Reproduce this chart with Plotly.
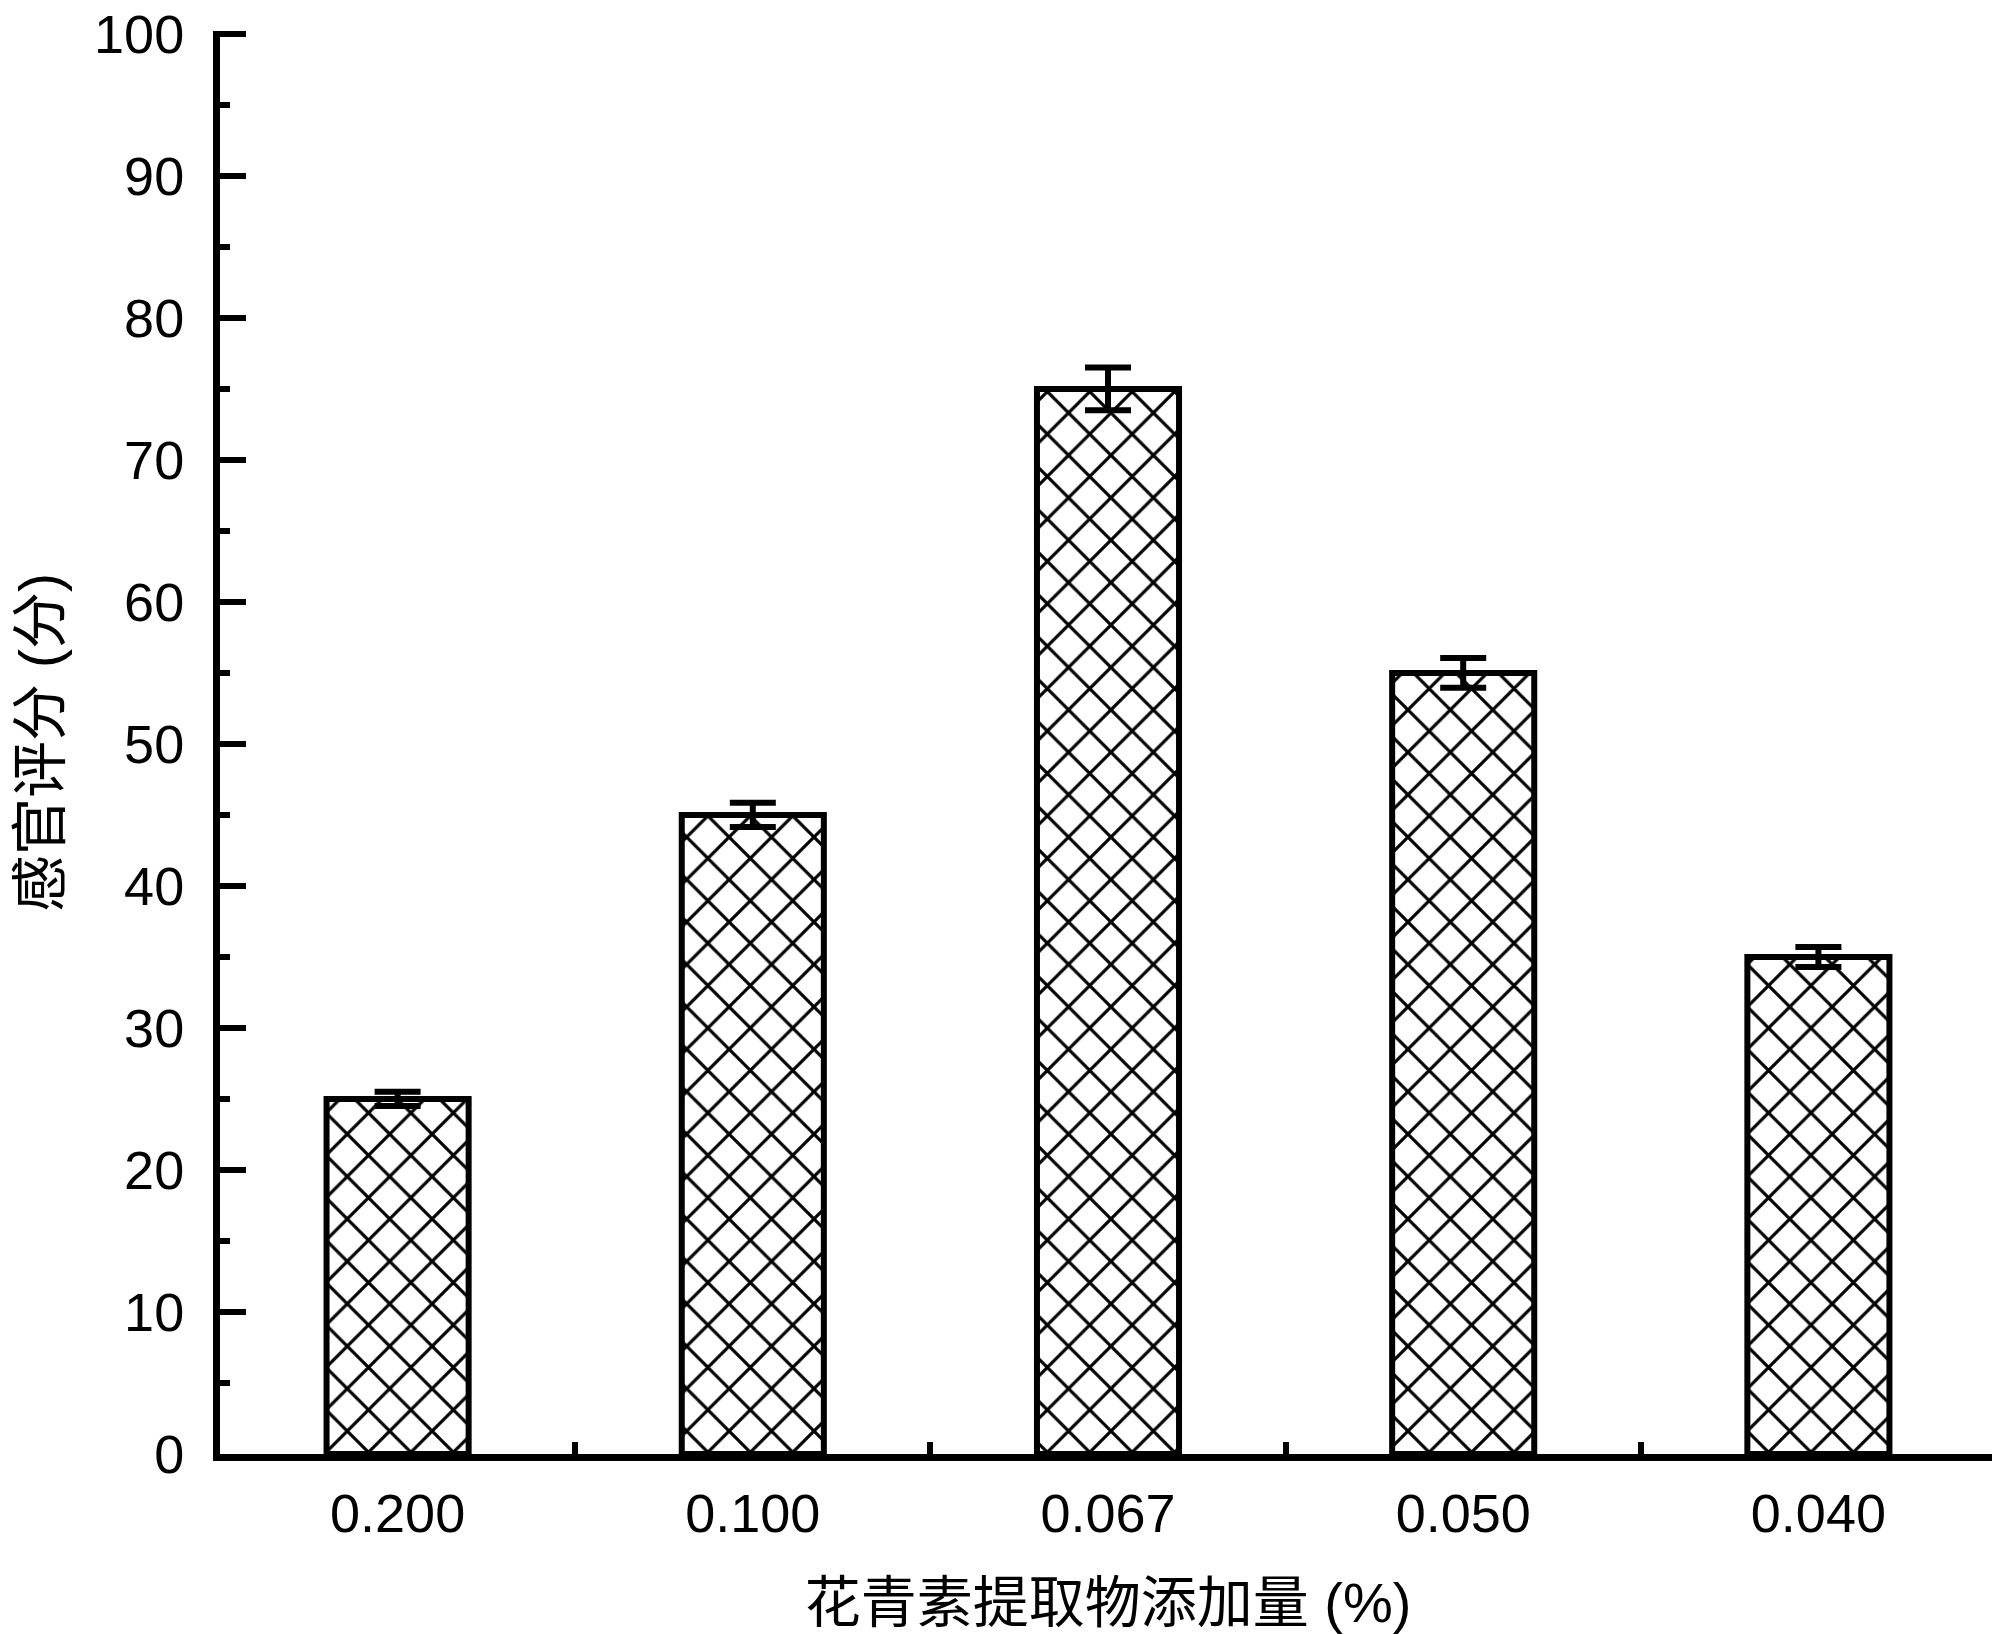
import plotly.graph_objects as go

categories = ["0.200", "0.100", "0.067", "0.050", "0.040"]
scores = [25, 45, 75, 55, 35]
errors = [0.5, 0.85, 1.5, 1.05, 0.7]
y_ticks = [0, 10, 20, 30, 40, 50, 60, 70, 80, 90, 100]

FONT = "Liberation Sans, Arial, Noto Sans CJK SC"

fig = go.Figure()
fig.add_trace(go.Bar(
    x=categories,
    y=scores,
    width=0.4,
    marker=dict(
        color="white",
        line=dict(color="black", width=6),
        pattern=dict(shape="x", size=30, solidity=0.2, fgcolor="black", fgopacity=1,
                     bgcolor="white", fillmode="overlay"),
    ),
    error_y=dict(type="data", array=errors, visible=True, color="black", thickness=6, width=23),
))

fig.update_layout(
    width=2000, height=1634,
    paper_bgcolor="white", plot_bgcolor="white",
    margin=dict(l=212, r=12, t=23, b=188),
    showlegend=False,
    font=dict(family=FONT, size=54, color="black"),
    bargap=0.6,
)
fig.update_xaxes(
    type="category",
    range=[-0.5, 4.5],
    automargin=False,
    showline=True, linecolor="black", linewidth=7,
    ticks="inside", ticklen=12, tickwidth=6, tickcolor="black",
    tickson="boundaries",
    ticklabelstandoff=6,
    ticklabeloverflow="allow",
    showgrid=False, zeroline=False,
    tickfont=dict(family=FONT, size=54, color="black"),
    title=dict(text="花青素提取物添加量 (%)", font=dict(family=FONT, size=56, color="black"), standoff=44),
)
fig.update_yaxes(
    range=[0, 100.2],
    automargin=False,
    tickmode="array", tickvals=y_ticks, ticktext=[str(v) for v in y_ticks],
    showline=True, linecolor="black", linewidth=7,
    ticks="inside", ticklen=26, tickwidth=6, tickcolor="black",
    minor=dict(dtick=5, tick0=0, ticks="inside", ticklen=10, tickwidth=6, tickcolor="black", showgrid=False),
    ticklabelstandoff=18,
    ticklabeloverflow="allow",
    showgrid=False, zeroline=False,
    tickfont=dict(family=FONT, size=54, color="black"),
    title=dict(text="感官评分 (分)", font=dict(family=FONT, size=57, color="black"), standoff=56),
)

fig.write_html("out.html")
